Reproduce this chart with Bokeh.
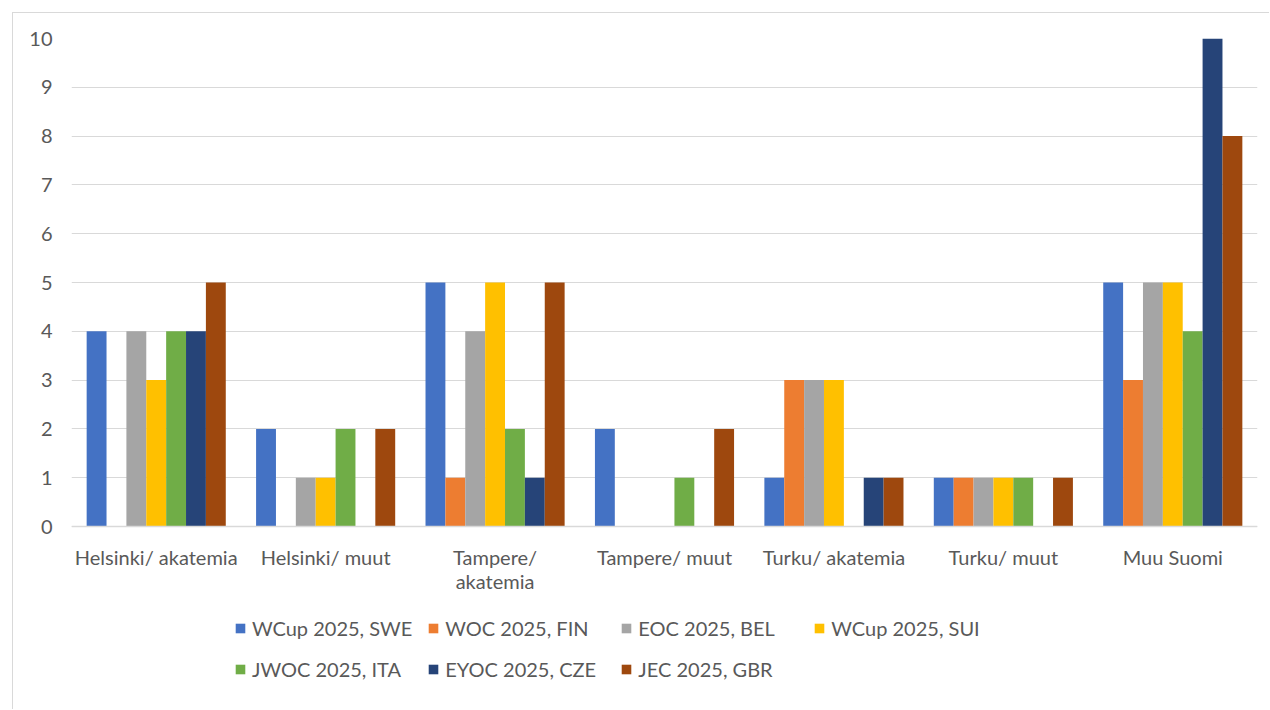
from bokeh.plotting import figure
from bokeh.models import ColumnDataSource, Range1d, Legend, LegendItem, FactorRange, Span
from bokeh.transform import dodge
from bokeh.embed import file_html
from bokeh.resources import INLINE
from bokeh.core.properties import value

categories = ["Helsinki/ akatemia", "Helsinki/ muut", "Tampere/ akatemia", "Tampere/ muut",
              "Turku/ akatemia", "Turku/ muut", "Muu Suomi"]
x_labels = ["Helsinki/ akatemia", "Helsinki/ muut", "Tampere/\nakatemia", "Tampere/ muut",
            "Turku/ akatemia", "Turku/ muut", "Muu Suomi"]
series_names = ["WCup 2025, SWE", "WOC 2025, FIN", "EOC 2025, BEL", "WCup 2025, SUI",
                "JWOC 2025, ITA", "EYOC 2025, CZE", "JEC 2025, GBR"]
wcup_swe = [4, 2, 5, 2, 1, 1, 5]
woc_fin = [0, 0, 1, 0, 3, 1, 3]
eoc_bel = [4, 1, 4, 0, 3, 1, 5]
wcup_sui = [3, 1, 5, 0, 3, 1, 5]
jwoc_ita = [4, 2, 2, 1, 0, 1, 4]
eyoc_cze = [4, 0, 1, 0, 1, 0, 10]
jec_gbr = [5, 2, 5, 2, 1, 1, 8]
y_ticks = list(range(0, 11))

series_values = [wcup_swe, woc_fin, eoc_bel, wcup_sui, jwoc_ita, eyoc_cze, jec_gbr]
colors = ["#4472C4", "#ED7D31", "#A5A5A5", "#FFC000", "#70AD47", "#264478", "#9E480E"]

FONT = "Lato"
FS = "20px"
TXT = "#595959"
GRID = "#d9d9d9"

data = {"cat": categories}
keys = []
for i, vals in enumerate(series_values):
    k = f"s{i}"
    keys.append(k)
    data[k] = vals
source = ColumnDataSource(data)

W, H = 1257, 697
TOP = 25
px_per_unit = 48.8
y_bottom = -((H - TOP) / px_per_unit - 10)

p = figure(x_range=FactorRange(*categories), y_range=Range1d(y_bottom, 10),
           width=W, height=H, output_backend="svg", toolbar_location=None,
           x_axis_location=None,
           min_border_left=58, min_border_right=13, min_border_top=TOP, min_border_bottom=0)
p.margin = (12, 0, 0, 12)
p.styles = {"border-top": f"1px solid {GRID}", "border-left": f"1px solid {GRID}"}
p.outline_line_color = None
p.background_fill_color = "white"
p.border_fill_color = "white"

bw = 0.1173
items = []
for i, k in enumerate(keys):
    r = p.vbar(x=dodge("cat", (i - 3) * bw, range=p.x_range), top=k, width=bw,
               source=source, fill_color=colors[i], line_color=None)
    items.append(LegendItem(label=series_names[i], renderers=[r]))

p.xgrid.grid_line_color = None
p.ygrid.grid_line_color = GRID
p.ygrid.grid_line_width = 1
p.yaxis.ticker = y_ticks
p.yaxis.axis_line_color = None
p.yaxis.major_tick_line_color = None
p.yaxis.minor_tick_line_color = None
p.yaxis.major_tick_out = 0
p.yaxis.major_tick_in = 0
p.yaxis.major_label_standoff = 19
p.yaxis.major_label_text_font = FONT
p.yaxis.major_label_text_font_size = FS
p.yaxis.major_label_text_color = TXT

# category axis line at zero
p.add_layout(Span(location=0, dimension="width", line_color=GRID, line_width=1.5))

# category labels (line-split)
line1 = [s.split("\n")[0] for s in x_labels]
l2_cats = [c for c, s in zip(categories, x_labels) if "\n" in s]
l2_txt = [s.split("\n")[1] for s in x_labels if "\n" in s]
y1 = -30 / px_per_unit
y2 = -54 / px_per_unit
p.text(x=categories, y=[y1] * len(categories), text=line1, text_align="center",
       text_baseline="middle", text_font=value(FONT), text_font_size=FS, text_color=TXT)
p.text(x=l2_cats, y=[y2] * len(l2_cats), text=l2_txt, text_align="center",
       text_baseline="middle", text_font=value(FONT), text_font_size=FS, text_color=TXT)

legend = Legend(items=items, orientation="horizontal", ncols=4,
                location=(163, 28), padding=0, margin=0, spacing=15,
                glyph_width=12, glyph_height=12, label_standoff=6,
                label_width=160, label_height=26,
                label_text_font=FONT, label_text_font_size=FS,
                label_text_color=TXT, border_line_color=None,
                background_fill_alpha=0)
p.add_layout(legend)

open("out.html", "w").write(file_html(p, INLINE))
